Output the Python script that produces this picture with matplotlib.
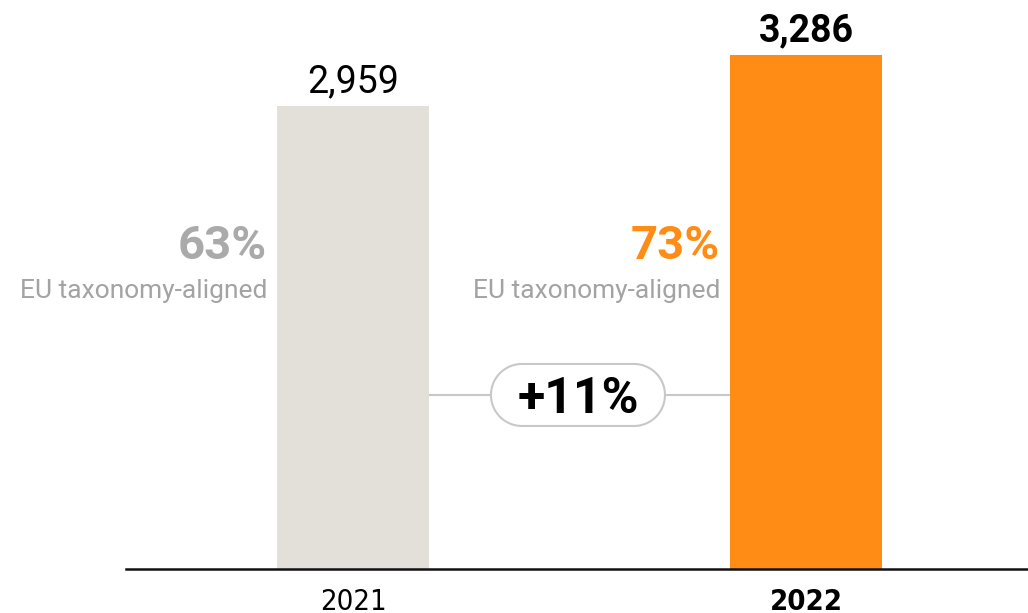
import numpy as np
import matplotlib.pyplot as plt
from matplotlib.patches import Polygon
from matplotlib.transforms import IdentityTransform

years = ['2021', '2022']
values = [2959, 3286]
aligned_pct = ['63%', '73%']
change_label = '+11%'

bar_colors = ['#e3dfd9', '#ff8c14']
pct_colors = ['#aaaaaa', '#ff8c14']
sub_color = '#a3a3a3'

plt.rcParams['font.family'] = ['Roboto', 'DejaVu Sans']

fig = plt.figure(figsize=(10.28, 6.13), dpi=100)
ax = fig.add_axes([0.1226, 0.0718, 0.8774, 0.9282])

width = 0.335
x = [0, 1]
bars = ax.bar(x, values, width=width, color=bar_colors, zorder=2)
ax.set_xlim(-0.501, 1.490)
ax.set_ylim(0, 3636)

for s in ['top', 'right', 'left']:
    ax.spines[s].set_visible(False)
ax.spines['bottom'].set_linewidth(1.8)
ax.spines['bottom'].set_color('#111111')
ax.set_yticks([])
ax.set_xticks(x)
ax.set_xticklabels(years)
ax.tick_params(axis='x', length=0, pad=14)
for lbl, w in zip(ax.get_xticklabels(), ['normal', 'bold']):
    lbl.set_fontfamily(['DejaVu Sans'])
    lbl.set_fontstretch('condensed')
    lbl.set_fontsize(21)
    lbl.set_fontweight(w)

# value labels on top of bars
for xi, v, w in zip(x, values, ['normal', 'bold']):
    ax.text(xi, v + 35, f'{v:,}', ha='center', va='bottom', fontsize=27,
            fontweight=w, color='black')

# share of EU taxonomy-aligned
for xi, p, c in zip(x, aligned_pct, pct_colors):
    ax.text(xi - width / 2 - 0.022, 2064, p, ha='right', va='center',
            fontsize=34, fontweight='bold', color=c)
    ax.text(xi - width / 2 - 0.022, 1776, 'EU taxonomy-aligned', ha='right',
            va='center', fontsize=19, fontweight='normal', color=sub_color)

# connector with growth label
y_con = 1112
ax.plot([x[0] + width / 2, x[1] - width / 2], [y_con, y_con], color='#c8c8c8',
        lw=1.5, zorder=1)
mid = 0.4966
cx, cy = ax.transData.transform((mid, y_con))
bw, bh = 174, 62  # pill size in pixels
r = bh / 2
t_left = np.radians(np.linspace(90, 270, 60))
t_right = np.radians(np.linspace(-90, 90, 60))
left = np.column_stack([cx - bw / 2 + r + r * np.cos(t_left), cy + r * np.sin(t_left)])
right = np.column_stack([cx + bw / 2 - r + r * np.cos(t_right), cy + r * np.sin(t_right)])
pill = Polygon(np.vstack([left, right]), closed=True, transform=IdentityTransform(),
               fc='white', ec='#c8c8c8', lw=1.5, zorder=3)
ax.add_artist(pill)
ax.text(mid, y_con - 30, change_label, ha='center', va='center', fontsize=36,
        fontweight='bold', color='black', zorder=4)

fig.savefig('out.png', dpi=100)
